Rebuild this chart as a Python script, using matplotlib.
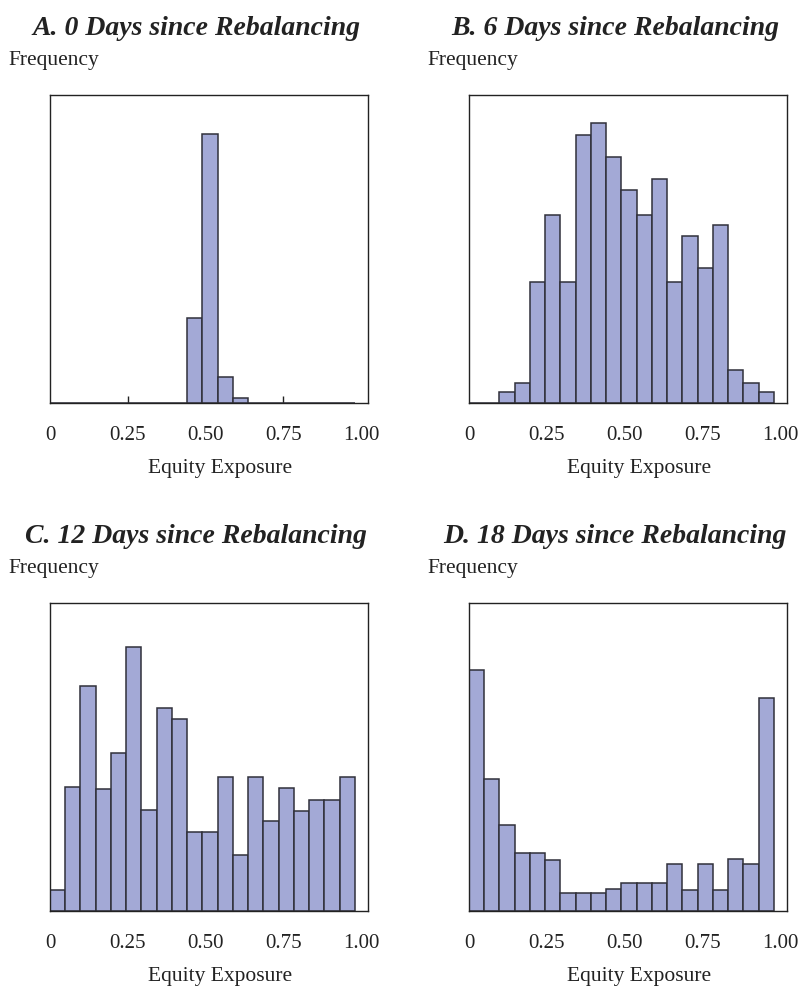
import numpy as np
import matplotlib.pyplot as plt

# hauteurs relatives des barres (en % de la hauteur du cadre), 20 classes de largeur 0.049
largeur_classe = 0.049
bords = np.arange(20) * largeur_classe

freq_a = [0, 0, 0, 0, 0, 0, 0, 0, 0, 27.5, 87.3, 8.4, 1.7, 0, 0, 0, 0, 0, 0, 0]
freq_b = [0, 0, 3.5, 6.6, 39.4, 61.2, 39.4, 86.9, 90.9, 79.8,
          69.2, 61.2, 72.6, 39.4, 54.2, 43.7, 57.9, 10.6, 6.6, 3.5]
freq_c = [6.8, 40.1, 73.2, 39.7, 51.4, 85.6, 32.8, 66.0, 62.3, 25.7,
          25.7, 43.6, 18.3, 43.6, 29.3, 39.8, 32.5, 36.2, 36.2, 43.5]
freq_d = [78.4, 43.0, 27.9, 18.7, 18.7, 16.6, 5.7, 5.7, 5.7, 7.0,
          9.0, 9.0, 9.0, 15.2, 6.9, 15.1, 6.9, 16.8, 15.4, 69.1]

titres = ["A. 0 Days since Rebalancing", "B. 6 Days since Rebalancing",
          "C. 12 Days since Rebalancing", "D. 18 Days since Rebalancing"]
ticks_x = [0, 0.25, 0.50, 0.75, 1.00]
labels_x = ["0", "0.25", "0.50", "0.75", "1.00"]
petits_ticks = [0.25, 0.50, 0.75]

W, H = 803, 987
fig = plt.figure(figsize=(W / 100, H / 100), dpi=100)
police = ['Liberation Serif', 'DejaVu Serif']

# positions des cadres en pixels : gauche, haut
cadres = [(50, 96), (469, 96), (50, 604), (469, 604)]
lw, lh = 318, 308

for (gauche, haut), titre, freq in zip(cadres, titres, [freq_a, freq_b, freq_c, freq_d]):
    ax = fig.add_axes([gauche / W, 1 - (haut + lh) / H, lw / W, lh / H])
    ax.bar(bords, freq, width=largeur_classe, align='edge', color='#a3a9d6',
           edgecolor='#30303a', linewidth=1.1)
    ax.set_axisbelow(True)
    ax.set_xlim(0, 1.0225)
    ax.set_ylim(0, 100)
    ax.set_yticks([])
    ax.set_xticks(ticks_x)
    ax.set_xticklabels(labels_x, fontfamily=police, fontsize=15, color='#222222')
    ax.set_xticks(petits_ticks, minor=True)
    ax.xaxis.remove_overlapping_locs = False
    ax.tick_params(axis='x', which='major', direction='in', length=0, pad=16)
    ax.tick_params(axis='x', which='minor', direction='in', length=5, width=1, color='#222222')
    for s in ax.spines.values():
        s.set_linewidth(1)
        s.set_color('#222222')

    # titre, "Frequency" et titre d'axe placés en pixels
    fig.text((gauche + 146) / W, 1 - (haut - 61) / H, titre, ha='center', va='baseline',
             fontfamily=police, fontsize=20, fontweight='bold', fontstyle='italic', color='#222222')
    fig.text((gauche - 42) / W, 1 - (haut - 31) / H, "Frequency", ha='left', va='baseline',
             fontfamily=police, fontsize=15.5, color='#222222')
    fig.text((gauche + 170) / W, 1 - (haut + lh + 69) / H, "Equity Exposure", ha='center',
             va='baseline', fontfamily=police, fontsize=15.5, color='#222222')

fig.savefig('out.png', dpi=100)
